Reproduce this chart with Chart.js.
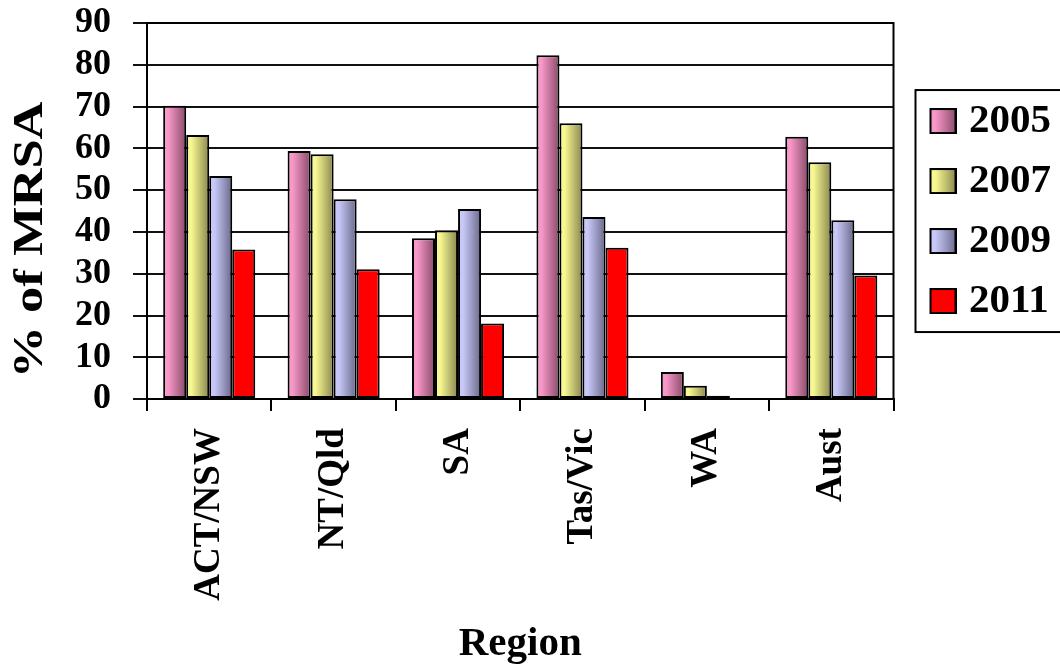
<!DOCTYPE html>
<html>
<head>
<meta charset="utf-8">
<script src="https://cdn.jsdelivr.net/npm/chart.js@4.4.1/dist/chart.umd.min.js"></script>
<style>
  html, body { margin: 0; padding: 0; background: #fff; }
  canvas { display: block; }
</style>
</head>
<body>
<canvas id="chart" width="1060" height="671"></canvas>
<script>
// Categories and series (percentage of S. aureus isolates that are MRSA)
const regions = ['ACT/NSW', 'NT/Qld', 'SA', 'Tas/Vic', 'WA', 'Aust'];
const years = ['2005', '2007', '2009', '2011'];
const mrsa2005 = [70.2, 59.4, 38.5, 82.3, 6.5, 62.8];
const mrsa2007 = [63.2, 58.6, 40.4, 66.0, 3.2, 56.7];
const mrsa2009 = [53.4, 47.8, 45.5, 43.6, 0.8, 42.8];
const mrsa2011 = [35.8, 31.1, 18.1, 36.2, 0, 29.6];
const yTickValues = [0, 10, 20, 30, 40, 50, 60, 70, 80, 90];

const SERIF = "'Liberation Serif', 'Times New Roman', serif";

// Fill for each series: left-to-right shading, the last one flat red
const shades = [
  { light: '#f898c8', dark: '#884a69' },
  { light: '#f8f892', dark: '#88874e' },
  { light: '#c8c8f8', dark: '#69698b' },
  { light: '#ff0000', dark: null }
];

function shadeGradient(ctx, x0, x1, shade) {
  const g = ctx.createLinearGradient(x0, 0, x1, 0);
  g.addColorStop(0, shade.light);
  g.addColorStop(0.22, shade.light);
  g.addColorStop(1, shade.dark);
  return g;
}

// Legend swatch images: framed square on the right half, transparent on the left
function makeSwatch(shade) {
  const cv = document.createElement('canvas');
  cv.width = 52; cv.height = 26;
  const g = cv.getContext('2d');
  g.fillStyle = shade.dark ? shadeGradient(g, 25, 52, shade) : shade.light;
  g.fillRect(25, 0, 27, 26);
  g.strokeStyle = '#000';
  g.lineWidth = 2;
  g.strokeRect(26, 1, 25, 24);
  return cv;
}
const swatches = shades.map(makeSwatch);

// Per-bar horizontal shading from each bar's own geometry
const barShading = {
  id: 'barShading',
  beforeDatasetDraw(chart, args) {
    const shade = shades[args.index];
    if (!shade || !shade.dark) return;
    const ctx = chart.ctx;
    args.meta.data.forEach(el => {
      if (!el.options || Object.isFrozen(el.options)) return;
      const { x, width } = el.getProps(['x', 'width'], true);
      if (!isFinite(x) || !isFinite(width)) return;
      el.options.backgroundColor = shadeGradient(ctx, x - width / 2, x + width / 2, shade);
    });
  }
};

// Plot frame, legend frame and the vertical axis title
const frames = {
  id: 'frames',
  afterDraw(chart) {
    const ctx = chart.ctx;
    const a = chart.chartArea;
    ctx.save();
    ctx.strokeStyle = '#000';
    ctx.lineWidth = 2;
    ctx.beginPath();
    ctx.moveTo(a.left, a.top);
    ctx.lineTo(a.right, a.top);
    ctx.lineTo(a.right, a.bottom);
    ctx.stroke();

    const lg = chart.legend;
    if (lg) {
      const cy = (lg.top + lg.bottom) / 2;
      ctx.strokeRect(lg.left + 22, cy - 121, chart.width, 242);
    }

    ctx.fillStyle = '#000';
    ctx.font = 'bold 42px ' + SERIF;
    ctx.textAlign = 'center';
    ctx.textBaseline = 'alphabetic';
    ctx.translate(42, 240);
    ctx.rotate(-Math.PI / 2);
    ctx.scale(1.25, 1);
    ctx.fillText('% of MRSA', 0, 0);
    ctx.restore();
  }
};

const seriesValues = [mrsa2005, mrsa2007, mrsa2009, mrsa2011];

new Chart(document.getElementById('chart'), {
  type: 'bar',
  data: {
    labels: regions,
    datasets: years.map((y, i) => ({
      label: y,
      data: seriesValues[i],
      backgroundColor: () => shades[i].light,
      borderColor: '#000',
      borderWidth: 2,
      borderSkipped: false,
      barPercentage: 1.0,
      categoryPercentage: 0.74
    }))
  },
  options: {
    responsive: false,
    animation: false,
    devicePixelRatio: 1,
    layout: { padding: { left: 53, top: 23, right: -1, bottom: 0 } },
    plugins: {
      tooltip: { enabled: false },
      legend: {
        position: 'right',
        fullSize: false,
        labels: {
          usePointStyle: true,
          pointStyleWidth: 36,
          boxHeight: 26,
          padding: 19,
          color: '#000',
          font: { family: SERIF, size: 41, weight: 'bold' },
          generateLabels: (chart) => chart.data.datasets.map((ds, i) => ({
            text: ds.label,
            fillStyle: shades[i].light,
            strokeStyle: '#000',
            lineWidth: 0,
            pointStyle: swatches[i],
            hidden: false,
            datasetIndex: i,
            fontColor: '#000'
          }))
        }
      }
    },
    scales: {
      x: {
        grid: {
          offset: true,
          drawOnChartArea: false,
          drawTicks: true,
          tickLength: 12,
          color: '#000',
          lineWidth: 2
        },
        border: { display: true, color: '#000', width: 2 },
        ticks: {
          autoSkip: false,
          minRotation: 90,
          maxRotation: 90,
          padding: 17,
          color: '#000',
          font: { family: SERIF, size: 37, weight: 'bold' }
        },
        title: {
          display: true,
          text: 'Region',
          color: '#000',
          padding: { top: 2, bottom: 2 },
          font: { family: SERIF, size: 41, weight: 'bold' }
        }
      },
      y: {
        min: yTickValues[0],
        max: yTickValues[yTickValues.length - 1],
        afterBuildTicks: (scale) => { scale.ticks = yTickValues.map(v => ({ value: v })); },
        grid: {
          color: '#111',
          lineWidth: 2,
          drawTicks: true,
          tickLength: 14
        },
        border: { display: true, color: '#000', width: 2 },
        ticks: {
          autoSkip: false,
          padding: 22,
          color: '#000',
          font: { family: SERIF, size: 36, weight: 'bold', lineHeight: 0.05 }
        }
      }
    }
  },
  plugins: [barShading, frames]
});
</script>
</body>
</html>
